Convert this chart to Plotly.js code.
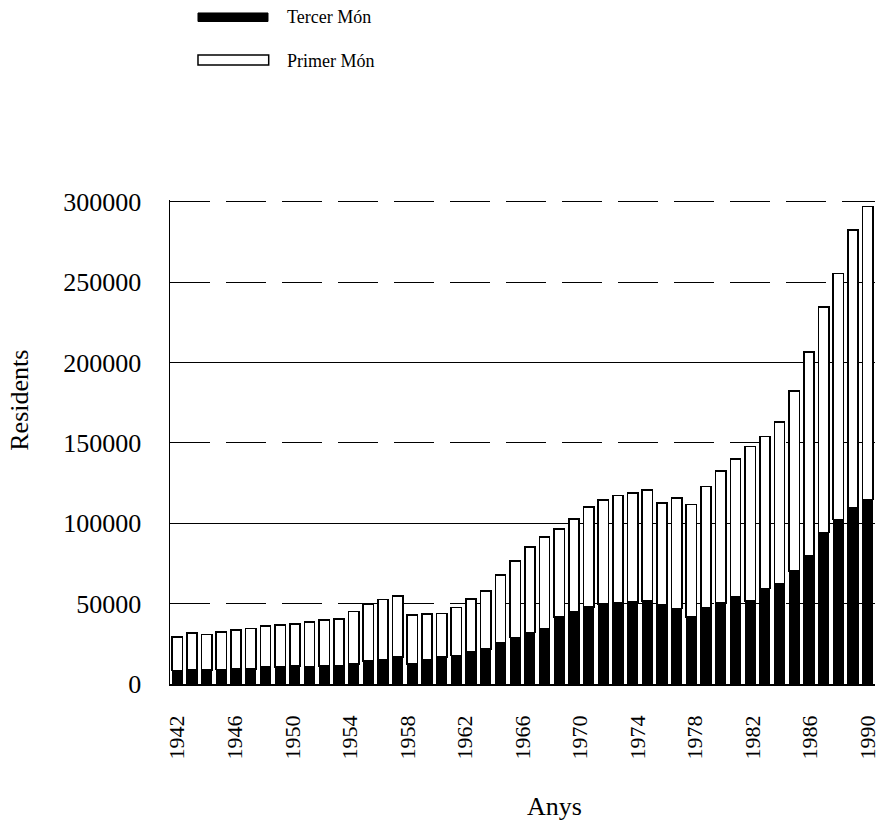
<!DOCTYPE html>
<html>
<head>
<meta charset="utf-8">
<script src="https://cdn.plot.ly/plotly-3.0.1.min.js"></script>
<style>
html,body{margin:0;padding:0;background:#fff;}
#chart{width:881px;height:827px;}
</style>
</head>
<body>
<div id="chart"></div>
<script>
// Years of the 48 bars
var years = [1942,1943,1944,1945,1946,1947,1948,1949,1950,1951,1952,1953,
             1954,1955,1956,1957,1958,1959,1960,1961,1962,1963,1964,1965,
             1966,1967,1968,1969,1970,1971,1972,1973,1974,1975,1976,1977,
             1978,1979,1980,1981,1982,1983,1984,1985,1986,1987,1988,1989];

// Residents from the Third World (black, bottom)
var tercerMon = [8400,9000,8700,9000,9500,9500,10500,10500,11100,11000,11100,11100,
                 12600,14300,15100,16800,12600,15100,16800,17800,19900,21600,25500,28900,
                 32000,34500,41800,44900,48000,49700,50500,51100,51700,49100,47000,41800,
                 47500,50500,54300,51800,59500,62600,70300,79700,94300,102200,109500,114700];

// Residents from the First World (white, stacked on top)
var primerMon = [20900,22750,22200,23200,23900,25000,25400,26100,26100,27600,28600,29200,
                 32400,35400,37500,37900,30200,28300,27100,29800,33100,36400,42300,47700,
                 53100,56900,54600,57700,61900,64600,66700,67800,68800,63500,68700,69800,
                 75300,81900,85800,95800,94400,100400,112100,126700,140200,153100,172900,182300];

// Series names and axis tick labels
var seriesNames = ["Tercer Món", "Primer Món"];
var yearLabels = ["1942","1946","1950","1954","1958","1962","1966","1970","1974","1978","1982","1986","1990"];
var yearLabelVals = [1942,1946,1950,1954,1958,1962,1966,1970,1974,1978,1982,1986,1990];
var yTicks = [0,50000,100000,150000,200000,250000,300000];
var yTickLabels = ["0","50000","100000","150000","200000","250000","300000"];
var ySolid = [100000,200000];

var serif = "Liberation Serif, Times New Roman, serif";
var n = years.length;
var half = 0.5 * n / (n - 1);
var yTop = 301000;

var traces = [
  {type:'bar', name:seriesNames[0], x:years, y:tercerMon,
   marker:{color:'#000', line:{color:'#000', width:1}}},
  {type:'bar', name:seriesNames[1], x:years, y:primerMon,
   marker:{color:'#fff', line:{color:'#000', width:1.6}}},
  {type:'scatter', x:[yearLabelVals[0]], y:[0], xaxis:'x2', yaxis:'y2',
   mode:'markers', marker:{opacity:0}, hoverinfo:'skip'}
];

var layout = {
  width:881, height:827,
  margin:{l:170, r:6, t:200, b:143},
  paper_bgcolor:'#fff', plot_bgcolor:'rgba(0,0,0,0)',
  barmode:'stack', bargap:0.3,
  font:{family:serif, color:'#000', size:20},
  showlegend:false,
  xaxis:{type:'linear', range:[years[0]-0.5, years[n-1]+0.5],
         showticklabels:false, ticks:'', showgrid:false, zeroline:false,
         showline:true, linecolor:'#000', linewidth:1.5, automargin:false,
         fixedrange:true},
  xaxis2:{overlaying:'x', anchor:'y', side:'bottom',
          range:[yearLabelVals[0]-half, yearLabelVals[yearLabelVals.length-1]+half],
          tickmode:'array', tickvals:yearLabelVals, ticktext:yearLabels,
          tickangle:-90, ticks:'', ticklabelstandoff:26,
          tickfont:{family:serif, size:22, color:'#000'},
          showgrid:false, zeroline:false, showline:false, automargin:false},
  yaxis:{range:[0,yTop], tickmode:'array', tickvals:yTicks, ticktext:yTickLabels,
         ticks:'', ticklabelstandoff:22,
         tickfont:{family:serif, size:26, color:'#000'},
         showgrid:true, gridcolor:'#000', gridwidth:1, griddash:'40px,16px',
         zeroline:false, showline:true, linecolor:'#000', linewidth:1.5,
         automargin:false},
  yaxis2:{overlaying:'y', range:[0,yTop], tickmode:'array', tickvals:ySolid,
          showticklabels:false, ticks:'', showgrid:true, gridcolor:'#000', gridwidth:1,
          zeroline:false, showline:false, automargin:false},
  // custom legend swatches (wide bars, as in the original)
  shapes:[
    {type:'rect', xref:'paper', yref:'paper', x0:0.0397, x1:0.139, y0:1.3688, y1:1.3864,
     fillcolor:'#000', line:{color:'#000', width:1}},
    {type:'rect', xref:'paper', yref:'paper', x0:0.0397, x1:0.140, y0:1.2789, y1:1.2996,
     fillcolor:'#fff', line:{color:'#000', width:1.5}}
  ],
  annotations:[
    {text:seriesNames[0], xref:'paper', yref:'paper', x:0.163, y:1.378,
     showarrow:false, xanchor:'left', yanchor:'middle',
     font:{family:serif, size:18, color:'#000'}},
    {text:seriesNames[1], xref:'paper', yref:'paper', x:0.163, y:1.287,
     showarrow:false, xanchor:'left', yanchor:'middle',
     font:{family:serif, size:18, color:'#000'}},
    {text:'Residents', xref:'paper', yref:'paper', x:-0.213, y:0.587,
     textangle:-90, showarrow:false, xanchor:'center', yanchor:'middle',
     font:{family:serif, size:26, color:'#000'}},
    {text:'Anys', xref:'paper', yref:'paper', x:0.546, y:-0.254,
     showarrow:false, xanchor:'center', yanchor:'middle',
     font:{family:serif, size:26, color:'#000'}}
  ]
};

Plotly.newPlot('chart', traces, layout, {staticPlot:true, displayModeBar:false});
</script>
</body>
</html>
